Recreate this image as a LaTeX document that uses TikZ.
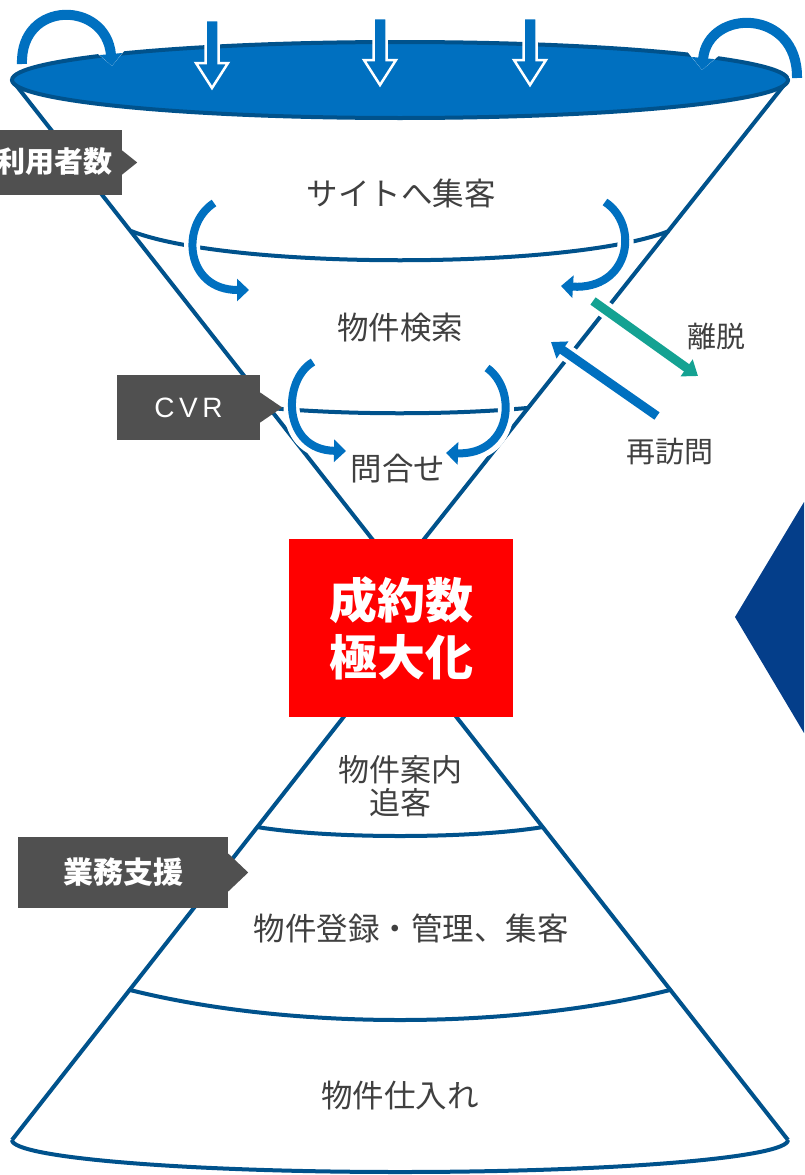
\documentclass[tikz,border=0pt]{standalone}
\usepackage{fontspec}
\newfontfamily\jp{Noto Sans CJK JP}
\newfontfamily\lsans{Liberation Sans}
\usetikzlibrary{arrows.meta}
\definecolor{mblue}{RGB}{0,112,192}
\definecolor{lblue}{RGB}{0,82,140}
\definecolor{tealc}{RGB}{20,162,146}
\definecolor{tagg}{RGB}{80,80,80}
\definecolor{txt}{RGB}{64,64,64}
\definecolor{chev}{RGB}{4,62,138}
\definecolor{ered}{RGB}{255,0,0}
\begin{document}
\begin{tikzpicture}[x=1pt,y=-1pt,
  fline/.style={draw=lblue,line width=4,line join=round},
  divline/.style={draw=lblue,line width=4},
  carrow/.style={draw=mblue,line width=8,-{Triangle[width=22,length=12]},
     preaction={draw=white,line width=16,-{Triangle[width=32,length=17]}}},
  sarrow/.style={line width=9,-{Triangle[width=20,length=14]},
     preaction={draw=white,line width=17,-{Triangle[width=30,length=19]}}},
  downarrow/.style={fill=mblue,draw=white,line width=2.5,line join=miter},
  lbl/.style={text=txt,font=\jp\fontsize{31.5}{36}\selectfont,align=center,inner sep=0},
  tagbox/.style={fill=tagg,text=white,inner sep=0},
]
\useasboundingbox (0,0) rectangle (804,1175);
\fill[white] (0,0) rectangle (804,1175);

% funnel lines
\coordinate (tl) at (12,80);
\coordinate (tr) at (788,80);
\coordinate (apex) at (398,572);
\coordinate (bapex) at (400,645);
\coordinate (bl) at (12,1140);
\coordinate (br) at (788,1140);
\draw[fline] (tl) -- (apex) -- (tr);
\draw[fline] (bl) -- (bapex) -- (br);
\draw[fline] (bl) arc[start angle=180,end angle=0,x radius=388,y radius=32];

% dividers
\draw[divline] (131,231) .. controls (230,270) and (570,270) .. (669,231);
\draw[divline] (270,408) .. controls (350,415) and (450,415) .. (527,408);
\draw[divline] (257,827) .. controls (330,839) and (470,839) .. (543,827);
\draw[divline] (130,990) .. controls (290,1030) and (510,1030) .. (670,990);

% top ellipse
\draw[fill=mblue,draw=lblue,line width=4] (400,80) ellipse[x radius=388,y radius=38];

% top down arrows
\foreach \x/\t/\b in {212/20/88,380/18/85,530/18/85}
  \draw[downarrow] (\x-6.5,\t) -- (\x+6.5,\t) -- (\x+6.5,\b-25) -- (\x+16,\b-25) -- (\x,\b) -- (\x-16,\b-25) -- (\x-6.5,\b-25) -- cycle;

% top curved arrows
\draw[carrow,line width=10] (22,64) .. controls (20,0) and (106,0) .. (112,66);
\draw[carrow,line width=10] (797,78) .. controls (798,8) and (708,8) .. (702,70);

% level curved arrows
\draw[carrow] (214,203) .. controls (180,225) and (185,290) .. (249,290);
\draw[carrow] (605,202) .. controls (640,225) and (630,290) .. (561,286);
\draw[carrow] (313,362) .. controls (282,380) and (282,450) .. (346,451);
\draw[carrow] (487,368) .. controls (518,390) and (512,455) .. (446,453);

% leave / revisit arrows
\draw[sarrow,draw=tealc] (593,301) -- (698,376);
\draw[sarrow,draw=mblue] (657,416) -- (551,342);

% texts
\node[lbl] (t1) at (401,193) {サイトへ集客};
\node[lbl] (t2) at (400,328) {物件検索};
\node[lbl] (t3) at (398,469) {問合せ};
\node[lbl,font=\jp\fontsize{29}{34}\selectfont] (t4) at (716,336) {離脱};
\node[lbl,font=\jp\fontsize{29}{34}\selectfont] (t5) at (670,452) {再訪問};
\node[lbl,font=\jp\fontsize{31}{33}\selectfont] (t6) at (400,786) {物件案内\\追客};
\node[lbl] (t7) at (411,928) {物件登録・管理、集客};
\node[lbl] (t8) at (400,1096) {物件仕入れ};

% tags
\node[tagbox,minimum width=134,minimum height=65] (tagA) at (55,162.5) {};
\fill[tagg] ([yshift=12pt]tagA.east) -- ++(15,12) -- ++(-15,12) -- cycle;
\node[text=white,font=\jp\bfseries\fontsize{29}{34}\selectfont,inner sep=0] (tagAt) at (54,162) {利用者数};

\node[tagbox,minimum width=143,minimum height=65,font=\lsans\fontsize{28}{32}\selectfont] (tagB) at (188.5,407.5) {C\,V\,R};
\fill[tagg] ([yshift=15pt]tagB.east) -- ++(22,15) -- ++(-22,15) -- cycle;

\node[tagbox,minimum width=210,minimum height=71,font=\jp\bfseries\fontsize{30}{34}\selectfont] (tagC) at (123,872.5) {業務支援};
\fill[tagg] ([yshift=19pt]tagC.east) -- ++(20,19) -- ++(-20,19) -- cycle;

% central red box
\node[fill=ered,minimum width=224,minimum height=178,inner sep=0,text=white,align=center,
  font=\jp\bfseries\fontsize{48}{57}\selectfont] (goal) at (401,628) {成約数\\極大化};

% right chevron
\fill[chev] (735,617) -- (804,502) -- (804,733) -- cycle;
\end{tikzpicture}
\end{document}
